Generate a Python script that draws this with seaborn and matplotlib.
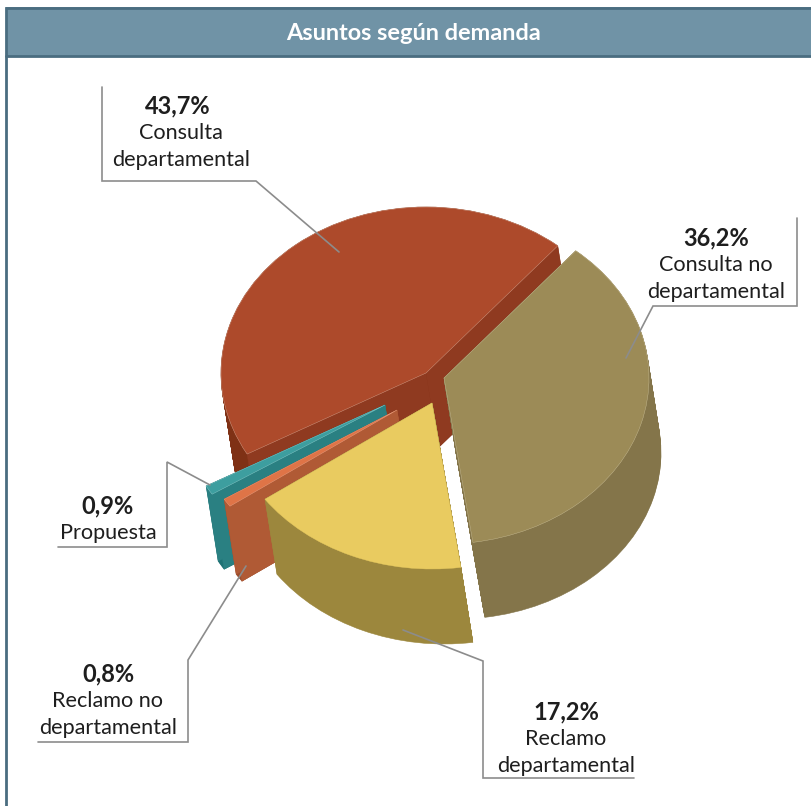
import numpy as np
import matplotlib
matplotlib.use("Agg")
import matplotlib.pyplot as plt
import seaborn as sns

title = "Asuntos según demanda"
categories = ["Consulta\ndepartamental", "Propuesta", "Reclamo no\ndepartamental",
              "Reclamo\ndepartamental", "Consulta no\ndepartamental"]
values = [43.7, 0.9, 0.8, 17.2, 36.2]

top_hex = ["#AD4A2B", "#3D9E9F", "#DF7447", "#E9CB60", "#9C8B57"]
arc_hex = ["#7F3115", "#1F7275", "#9C4D2C", "#9C873D", "#84754A"]
face_hex = ["#8F3A20", "#2A8082", "#B05A35", "#9C873D", "#84754A"]
edge_hex = ["#D9A48F", "#8CCBCB", "#EBA284", "#E9CB60", "#C9BD95"]

# layout, in figure pixels
apex_px = [(426, 373), (385, 405), (397, 410), (432, 403), (444, 378)]
draw_order = [0, 1, 2, 4, 3]
label_px = [(180, 105), (108, 505), (108, 673), (566, 711), (716, 237)]
leaders = [
    [(102, 87), (102, 181), (256, 181), (339, 252)],
    [(210, 485), (167, 462), (167, 547), (58, 547)],
    [(246, 566), (188, 660), (188, 742), (38, 742)],
    [(403, 630), (483, 661), (483, 778), (634, 778)],
    [(797, 218), (797, 306), (653, 306), (626, 358)],
]
W, H = 812, 806
RX, RY = 205, 166
SHIFT = (12, 75)
SCALE = 1.0
START = 50
LAYERS = 75

sns.set_theme(style="white")
plt.rcParams["font.family"] = ["Lato", "DejaVu Sans"]

fig = plt.figure(figsize=(W / 100, H / 100), dpi=100, facecolor="white")
ax = fig.add_axes([0, 0, 1, 1], zorder=1)
ov = fig.add_axes([0, 0, 1, 1], zorder=2)
ov.patch.set_alpha(0)


def to_data(px, py):
    return px / RX, -py / RY


fracs = np.array(values) / sum(values)
starts = START + 360 * np.concatenate([[0], np.cumsum(fracs)[:-1]])

for i in draw_order:
    ax_, ay_ = apex_px[i]
    theta0 = starts[i]
    sweep = fracs[i] * 360
    # side wall: the same slice stacked from bottom to top
    for t in np.linspace(1, 0, LAYERS):
        c = to_data(ax_ + SHIFT[0] * t, ay_ + SHIFT[1] * t)
        ax.pie([fracs[i]], normalize=False, startangle=theta0, center=c,
               radius=1 + (SCALE - 1) * t, colors=[arc_hex[i]],
               wedgeprops=dict(linewidth=0.4, edgecolor=arc_hex[i]))
    # radial cut faces
    cx, cy = to_data(ax_, ay_)
    bx, by = to_data(ax_ + SHIFT[0], ay_ + SHIFT[1])
    for th in (theta0, theta0 + sweep):
        r = np.deg2rad(th)
        ux, uy = np.cos(r), np.sin(r)
        ax.fill([cx, cx + ux, bx + SCALE * ux, bx],
                [cy, cy + uy, by + SCALE * uy, by],
                color=face_hex[i], linewidth=0.3)
    # top surface
    ax.pie([fracs[i]], normalize=False, startangle=theta0, center=(cx, cy),
           colors=[top_hex[i]],
           wedgeprops=dict(linewidth=0.3, edgecolor=edge_hex[i]))

ax.set_aspect("auto")
ax.set_xlim(0, W / RX)
ax.set_ylim(-H / RY, 0)
ax.set_axis_off()

ov.set_xlim(0, W)
ov.set_ylim(H, 0)
ov.set_axis_off()

# frame and header
ov.fill_between([6, W], 7, 57, color="#7093A6", linewidth=0)
ov.plot([W, 6.5, 6.5], [7.5, 7.5, H], color="#4A6D80", lw=2, solid_joinstyle="miter")
ov.plot([6, W], [56, 56], color="#4A6D80", lw=2)
ov.text(414, 33.5, title, color="white", fontsize=16.9, fontweight="bold",
        ha="center", va="center")

# leaders and labels
for pts in leaders:
    xs, ys = zip(*pts)
    ov.plot(xs, ys, color="#8C8C8C", lw=1.2, solid_joinstyle="miter")

for i, (x, y) in enumerate(label_px):
    pct = f"{values[i]:.1f}%".replace(".", ",")
    ov.text(x - (2 if i == 0 else 0), y + 1, pct, color="#1E1E1E", fontsize=17, fontweight="bold",
            ha="center", va="center")
    for j, line in enumerate(categories[i].split("\n")):
        ov.text(x + (1 if i == 0 else 0), y + 28 + 26.5 * j, line, color="#1E1E1E",
                fontsize=15.6, ha="center", va="center")

fig.savefig("out.png", dpi=100)
